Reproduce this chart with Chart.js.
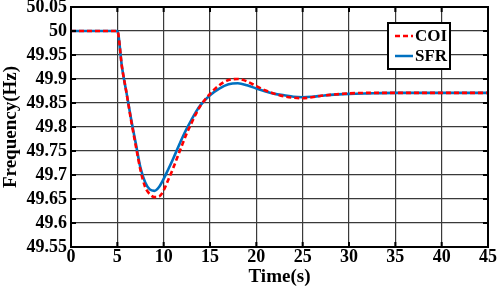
<!DOCTYPE html>
<html><head><meta charset="utf-8">
<script src="https://cdn.jsdelivr.net/npm/chart.js@4/dist/chart.umd.min.js"></script>
<style>html,body{margin:0;padding:0;background:#fff}#wrap{width:498px;height:288px;position:relative}</style>
</head><body><div id="wrap"><canvas id="c" width="498" height="288"></canvas></div>
<script>
const times = [0,5,5.5,6,6.5,7,7.5,8,8.5,9,9.5,10,10.5,11,11.5,12,12.5,13,13.5,14,15,16,17,18,19,20,21,22,23,24,25,26,27,28,30,32,35,40,45];
const sfr = [50,50,49.925,49.87,49.815,49.765,49.715,49.685,49.67,49.667,49.675,49.692,49.712,49.733,49.755,49.777,49.797,49.815,49.832,49.846,49.866,49.880,49.889,49.891,49.887,49.880,49.874,49.869,49.866,49.863,49.862,49.863,49.865,49.867,49.869,49.870,49.871,49.871,49.871];
const coi = [50,50,49.925,49.87,49.812,49.76,49.71,49.675,49.66,49.654,49.655,49.668,49.69,49.713,49.738,49.763,49.787,49.808,49.828,49.845,49.869,49.887,49.898,49.900,49.895,49.885,49.876,49.869,49.864,49.861,49.860,49.862,49.865,49.867,49.870,49.871,49.871,49.871,49.871];
const xTicks = [0,5,10,15,20,25,30,35,40,45];
const yTicks = [49.55,49.6,49.65,49.7,49.75,49.8,49.85,49.9,49.95,50,50.05];
const seriesNames = ['COI','SFR'];
const FONT = '"Liberation Serif", "Times New Roman", serif';

const toXY = arr => times.map((t,i)=>({x:t,y:arr[i]}));

const frame = {
  id:'frame',
  afterDraw(chart){
    const {ctx, chartArea:a, scales:{x,y}} = chart;
    ctx.save();
    ctx.strokeStyle='#000'; ctx.lineWidth=2;
    ctx.beginPath();
    xTicks.forEach(v=>{const px=x.getPixelForValue(v); ctx.moveTo(px,a.top); ctx.lineTo(px,a.top+5); ctx.moveTo(px,a.bottom); ctx.lineTo(px,a.bottom-5);});
    yTicks.forEach(v=>{const py=y.getPixelForValue(v); ctx.moveTo(a.right,py); ctx.lineTo(a.right-5,py); ctx.moveTo(a.left,py); ctx.lineTo(a.left+5,py);});
    ctx.stroke();
    ctx.strokeRect(a.left,a.top,a.right-a.left,a.bottom-a.top);
    // legend
    const lx=a.left+317, ly=a.top+16, lw=62, lh=46;
    ctx.fillStyle='#fff'; ctx.fillRect(lx,ly,lw,lh);
    ctx.strokeRect(lx,ly,lw,lh);
    ctx.font='bold 17px '+FONT; ctx.textBaseline='middle'; ctx.fillStyle='#000';
    chart.data.datasets.forEach((ds,i)=>{
      const yy=ly+13+i*20;
      ctx.strokeStyle=ds.borderColor; ctx.lineWidth=2.5;
      ctx.setLineDash(ds.borderDash||[]);
      ctx.beginPath(); ctx.moveTo(lx+7,yy); ctx.lineTo(lx+25,yy); ctx.stroke();
      ctx.setLineDash([]);
      ctx.fillText(ds.label,lx+27,yy+1);
    });
    ctx.restore();
  }
};

new Chart(document.getElementById('c'),{
  type:'line',
  data:{datasets:[
    {label:seriesNames[0],data:toXY(coi),borderColor:'#ff0000',borderWidth:2.6,borderDash:[5,3],pointRadius:0,cubicInterpolationMode:'monotone',order:0},
    {label:seriesNames[1],data:toXY(sfr),borderColor:'#0070c0',borderWidth:2.6,pointRadius:0,cubicInterpolationMode:'monotone',order:1}
  ]},
  options:{
    responsive:false,animation:false,
    layout:{padding:{top:0,right:10,left:0,bottom:0}},
    plugins:{legend:{display:false},tooltip:{enabled:false}},
    scales:{
      x:{type:'linear',min:0,max:45,
        afterBuildTicks:s=>{s.ticks=xTicks.map(v=>({value:v}));},
        afterFit:s=>{s.height=41;},
        grid:{color:'#3a3a3a',lineWidth:1.2,drawTicks:false},
        border:{display:false},
        ticks:{color:'#000',font:{family:FONT,size:18,weight:'bold'},padding:0,maxRotation:0,autoSkip:false},
        title:{display:true,text:'Time(s)',color:'#000',font:{family:FONT,size:19,weight:'bold'},padding:{top:-4,bottom:0}}
      },
      y:{type:'linear',min:49.55,max:50.05,
        afterBuildTicks:s=>{s.ticks=yTicks.map(v=>({value:v}));},
        afterFit:s=>{s.width=71; s.paddingTop=7; s.paddingBottom=0;},
        grid:{color:'#3a3a3a',lineWidth:1.2,drawTicks:false},
        border:{display:false},
        ticks:{color:'#000',font:{family:FONT,size:18,weight:'bold'},padding:4,autoSkip:false,callback:v=>String(+v.toFixed(2))},
        title:{display:true,text:'Frequency(Hz)',color:'#000',font:{family:FONT,size:19,weight:'bold'},padding:{top:0,bottom:-2}}
      }
    }
  },
  plugins:[frame]
});
</script></body></html>
